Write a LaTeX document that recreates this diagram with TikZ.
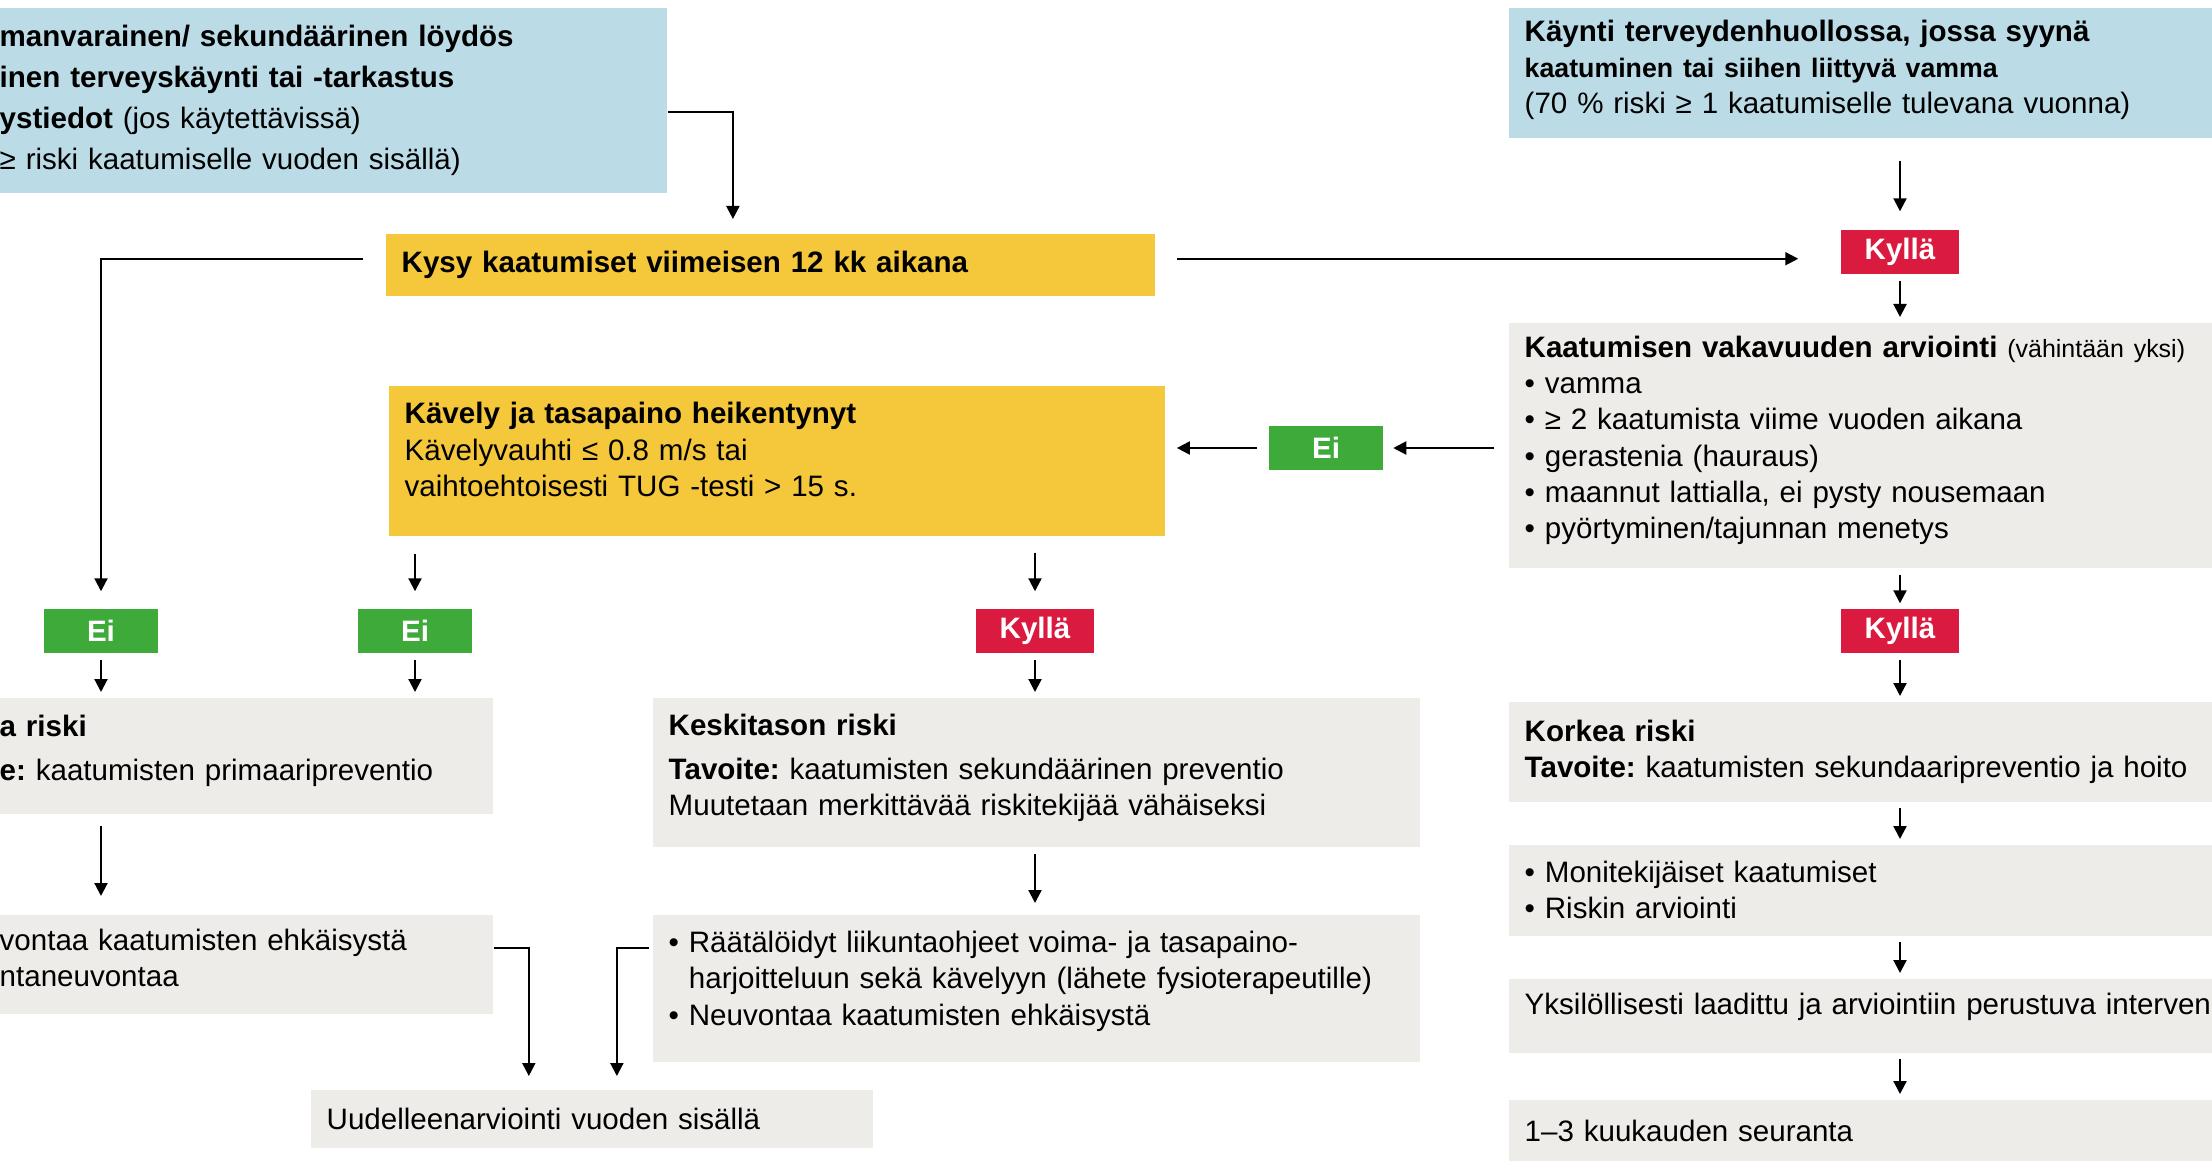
\documentclass[tikz,border=0pt]{standalone}
\usepackage{fontspec}
\setmainfont{Liberation Sans}
\usepackage{tikz}
\usetikzlibrary{positioning,arrows.meta}
\definecolor{skyblue}{HTML}{BBDCE6}
\definecolor{amber}{HTML}{F5C73B}
\definecolor{stone}{HTML}{EEECE8}
\definecolor{alarm}{HTML}{DA1A3E}
\definecolor{okgreen}{HTML}{3DAA39}
\newcommand{\txt}{\fontsize{8.4}{10.3}\selectfont\frenchspacing}
\newcommand{\lift}[1]{\par\kern#1}

\begin{document}
\begin{tikzpicture}[x=0.01cm,y=-0.01cm,
  box/.style={anchor=north west,inner xsep=0.16cm,inner ysep=0pt,align=left,font=\txt},
  infobox/.style={box,fill=skyblue},
  askbox/.style={box,fill=amber},
  stepbox/.style={box,fill=stone},
  tag/.style={text=white,font=\txt\bfseries,minimum height=0.44cm,inner sep=0pt},
  yesbox/.style={tag,fill=alarm,minimum width=1.18cm},
  nobox/.style={tag,fill=okgreen,minimum width=1.13cm},
  arr/.style={-{Triangle[length=0.13cm,width=0.13cm]},line width=0.6pt,shorten <=0.06cm,shorten >=0.05cm}]
  \clip (0,0) rectangle (2212,1160);
  % entry points
  \node[infobox,text width=6.51cm,minimum height=1.85cm,font=\fontsize{8.4}{11.7}\selectfont] (tl) at (-17,7)
    {\textbf{manvarainen/ sekundäärinen löydös}\\\textbf{inen terveyskäynti tai -tarkastus}\\\textbf{ystiedot} (jos käytettävissä)\\≥ riski kaatumiselle vuoden sisällä)};
  \node[infobox,text width=8.61cm,minimum height=1.30cm] (tr) at (1508,7)
    {\textbf{Käynti terveydenhuollossa, jossa syynä}\\{\fontsize{7.6}{10.3}\selectfont\textbf{kaatuminen tai siihen liittyvä vamma}}\\(70 \% riski ≥ 1 kaatumiselle tulevana vuonna)\lift{1.6pt}};
  \node[askbox,text width=7.37cm,minimum height=0.62cm] (ask) at (385,233) {\textbf{Kysy kaatumiset viimeisen 12 kk aikana}};
  \node[askbox,text width=7.44cm,minimum height=1.50cm] (walk) at (388,385)
    {\textbf{Kävely ja tasapaino heikentynyt}\\Kävelyvauhti ≤ 0.8 m/s tai\\vaihtoehtoisesti TUG -testi > 15 s.\lift{6.4pt}};
  \node[stepbox,text width=8.59cm,minimum height=2.45cm] (sev) at (1508,322)
    {\textbf{Kaatumisen vakavuuden arviointi} {\fontsize{7.1}{10.3}\selectfont(vähintään yksi)}\\• vamma\\• ≥ 2 kaatumista viime vuoden aikana\\• gerastenia (hauraus)\\• maannut lattialla, ei pysty nousemaan\\• pyörtyminen/tajunnan menetys\lift{2.8pt}};
  % answers
  \node[yesbox] (yes1) at (1900,252) {Kyllä};
  \node[nobox] (no0) at (1326,448) {Ei};
  \node[nobox] (no1) at (101,631) {Ei};
  \node[nobox] (no2) at (415,631) {Ei};
  \node[yesbox] (yes2) at (1035,631) {Kyllä};
  \node[yesbox] (yes3) at (1900,631) {Kyllä};
  % risk levels
  \node[stepbox,text width=4.77cm,minimum height=1.16cm] (low) at (-17,697)
    {\textbf{a riski}\\[2pt]\textbf{e:} kaatumisten primaaripreventio\lift{2.8pt}};
  \node[stepbox,text width=7.35cm,minimum height=1.49cm] (mid) at (652,697)
    {\textbf{Keskitason riski}\\[2.3pt]\textbf{Tavoite:} kaatumisten sekundäärinen preventio\\Muutetaan merkittävää riskitekijää vähäiseksi\lift{2.4pt}};
  \node[stepbox,text width=8.59cm,minimum height=1.00cm] (high) at (1508,701)
    {\textbf{Korkea riski}\\\textbf{Tavoite:} kaatumisten sekundaaripreventio ja hoito};
  \node[stepbox,text width=4.77cm,minimum height=0.99cm] (lowadv) at (-17,914)
    {vontaa kaatumisten ehkäisystä\\ntaneuvontaa\lift{3.6pt}};
  \node[stepbox,text width=7.35cm,minimum height=1.47cm] (midadv) at (652,914)
    {• Räätälöidyt liikuntaohjeet voima- ja tasapaino-\\\phantom{• }harjoitteluun sekä kävelyyn (lähete fysioterapeutille)\\• Neuvontaa kaatumisten ehkäisystä\lift{4pt}};
  \node[stepbox,text width=8.59cm,minimum height=0.91cm] (highmf) at (1508,844)
    {• Monitekijäiset kaatumiset\\• Riskin arviointi};
  \node[stepbox,text width=8.59cm,minimum height=0.74cm] (highint) at (1508,978)
    {Yksilöllisesti laadittu ja arviointiin perustuva interven\lift{4.8pt}};
  \node[stepbox,text width=8.59cm,minimum height=0.62cm] (highfu) at (1508,1099) {1–3 kuukauden seuranta};
  \node[stepbox,text width=5.30cm,minimum height=0.58cm] (reeval) at (310,1089) {Uudelleenarviointi vuoden sisällä};
  % connectors
  \draw[arr,shorten <=0pt,shorten >=0.14cm] ([yshift=-0.12cm]tl.east) -| ([xshift=-0.375cm]ask.north);
  \draw[arr,shorten <=0.22cm,shorten >=0.17cm] ([yshift=0.06cm]ask.west) -| (no1.north);
  \draw[arr,shorten <=0.21cm,shorten >=0.42cm] ([yshift=0.06cm]ask.east) -- ([yshift=0.06cm]ask.east -| yes1.west);
  \draw[arr,shorten <=0.22cm,shorten >=0.18cm] (tr.south -| yes1) -- (yes1.north);
  \draw[arr] (yes1.south) -- (yes1.south |- sev.north);
  \draw[arr,shorten <=0.14cm,shorten >=0.1cm] (sev.west |- no0) -- (no0.east);
  \draw[arr,shorten <=0.12cm,shorten >=0.11cm] (no0.west) -- (no0.west -| walk.east);
  \draw[arr] (sev.south -| yes3) -- (yes3.north);
  \draw[arr,shorten <=0.17cm,shorten >=0.17cm] (walk.south -| no2) -- (no2.north);
  \draw[arr,shorten <=0.16cm,shorten >=0.17cm] (walk.south -| yes2) -- (yes2.north);
  \draw[arr] (no1.south) -- (no1.south |- low.north);
  \draw[arr] (no2.south) -- (no2.south |- low.north);
  \draw[arr] (yes2.south) -- (yes2.south |- mid.north);
  \draw[arr] (yes3.south) -- (yes3.south |- high.north);
  \draw[arr,shorten <=0.12cm,shorten >=0.18cm] (low.south -| no1) -- (lowadv.north -| no1);
  \draw[arr,shorten >=0.11cm] (mid.south -| yes2) -- (midadv.north -| yes2);
  \draw[arr] (high.south -| yes3) -- (highmf.north -| yes3);
  \draw[arr] (highmf.south -| yes3) -- (highint.north -| yes3);
  \draw[arr] (highint.south -| yes3) -- (highfu.north -| yes3);
  \draw[arr,shorten <=0pt,shorten >=0.13cm] ([yshift=0.16cm]lowadv.east) -| ([xshift=-0.63cm]reeval.north);
  \draw[arr,shorten <=0.03cm,shorten >=0.13cm] ([yshift=0.40cm]midadv.west) -| ([xshift=0.25cm]reeval.north);
\end{tikzpicture}
\end{document}
